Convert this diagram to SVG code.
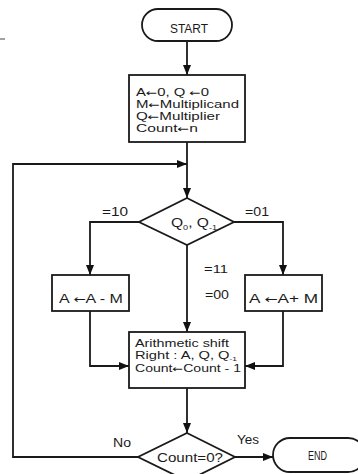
<svg xmlns="http://www.w3.org/2000/svg" width="358" height="474" viewBox="0 0 358 474">
<defs>
<marker id="ah" markerUnits="userSpaceOnUse" markerWidth="10" markerHeight="10" viewBox="0 0 10 10" refX="10" refY="5" orient="auto">
<path d="M0,1 L10,5 L0,9 Z" fill="#111"/>
</marker>
<style>
.sh{fill:#fff;stroke:#1a1a1a;stroke-width:1.8}
.cn{fill:none;stroke:#1a1a1a;stroke-width:1.8}
text{font-family:"Liberation Sans",Arial,sans-serif;fill:#1a1a1a;font-size:12px}
.m{font-size:10.5px}
.ar{font-family:"DejaVu Sans",sans-serif;font-size:9.5px}
</style>
</defs>
<rect width="358" height="474" fill="#fff"/>
<line x1="0" y1="39" x2="5" y2="39" stroke="#444" stroke-width="1"/>
<g id="connectors">
<path class="cn" d="M187,41 V75" marker-end="url(#ah)"/>
<path class="cn" d="M187,142 V198" marker-end="url(#ah)"/>
<path class="cn" d="M138,457 H13 V164 H187" marker-end="url(#ah)"/>
<path class="cn" d="M139,222 H90 V275" marker-end="url(#ah)"/>
<path class="cn" d="M234,222 H283 V275" marker-end="url(#ah)"/>
<path class="cn" d="M187,245 V332" marker-end="url(#ah)"/>
<path class="cn" d="M90,311 V366 H129" marker-end="url(#ah)"/>
<path class="cn" d="M283,311 V366 H245" marker-end="url(#ah)"/>
<path class="cn" d="M187,388 V433" marker-end="url(#ah)"/>
<path class="cn" d="M235,457 H273" marker-end="url(#ah)"/>
<text x="102" y="216" textLength="26" lengthAdjust="spacingAndGlyphs">=10</text>
<text x="245" y="216" textLength="24" lengthAdjust="spacingAndGlyphs">=01</text>
<text x="204" y="273" textLength="24" lengthAdjust="spacingAndGlyphs" style="font-size:11px">=11</text>
<text x="205" y="299" textLength="24" lengthAdjust="spacingAndGlyphs" style="font-size:13px">=00</text>
<text x="113" y="447" textLength="18" lengthAdjust="spacingAndGlyphs">No</text>
<text x="237" y="444" textLength="22" lengthAdjust="spacingAndGlyphs">Yes</text>
</g>
<g id="start">
<rect class="sh" x="142" y="9" width="90" height="32" rx="16" ry="16"/>
<text x="170" y="33" textLength="38" lengthAdjust="spacingAndGlyphs">START</text>
</g>
<g id="init">
<rect class="sh" x="129" y="75" width="116" height="67"/>
<text class="m" x="136" y="96" textLength="73" lengthAdjust="spacingAndGlyphs">A<tspan class="ar">←</tspan>0, Q <tspan class="ar">←</tspan>0</text>
<text class="m" x="136" y="108" textLength="103" lengthAdjust="spacingAndGlyphs">M<tspan class="ar">←</tspan>Multiplicand</text>
<text class="m" x="136" y="120" textLength="84" lengthAdjust="spacingAndGlyphs">Q<tspan class="ar">←</tspan>Multiplier</text>
<text class="m" x="136" y="132" textLength="62" lengthAdjust="spacingAndGlyphs">Count<tspan class="ar">←</tspan>n</text>
</g>
<g id="decision1">
<polygon class="sh" points="187,198 234,222 187,245 139,222"/>
<text x="171" y="227" textLength="46" lengthAdjust="spacingAndGlyphs">Q<tspan font-size="7" dy="3">0</tspan><tspan dy="-3">, Q</tspan><tspan font-size="7" dy="3">-1</tspan></text>
</g>
<g id="sub">
<rect class="sh" x="52" y="275" width="77" height="36"/>
<text x="59" y="303" textLength="64" lengthAdjust="spacingAndGlyphs">A <tspan class="ar" style="font-size:11px">←</tspan>A - M</text>
</g>
<g id="add">
<rect class="sh" x="245" y="275" width="77" height="36"/>
<text x="249" y="303" textLength="69" lengthAdjust="spacingAndGlyphs">A <tspan class="ar" style="font-size:11px">←</tspan>A+ M</text>
</g>
<g id="shift">
<rect class="sh" x="129" y="332" width="116" height="56"/>
<text class="m" x="135" y="347" textLength="94" lengthAdjust="spacingAndGlyphs">Arithmetic shift</text>
<text class="m" x="135" y="359" textLength="102" lengthAdjust="spacingAndGlyphs">Right : A, Q, Q<tspan font-size="6" dy="1.5">-1</tspan></text>
<text class="m" x="135" y="372" textLength="106" lengthAdjust="spacingAndGlyphs">Count<tspan class="ar">←</tspan>Count - 1</text>
</g>
<g id="decision2">
<polygon class="sh" points="187,433 235,457 187,481 138,457"/>
<text x="157" y="462" textLength="66" lengthAdjust="spacingAndGlyphs">Count=0?</text>
</g>
<g id="end">
<rect class="sh" x="273" y="438" width="92" height="34" rx="17" ry="17"/>
<text x="308" y="460" textLength="19" lengthAdjust="spacingAndGlyphs">END</text>
</g>
</svg>
